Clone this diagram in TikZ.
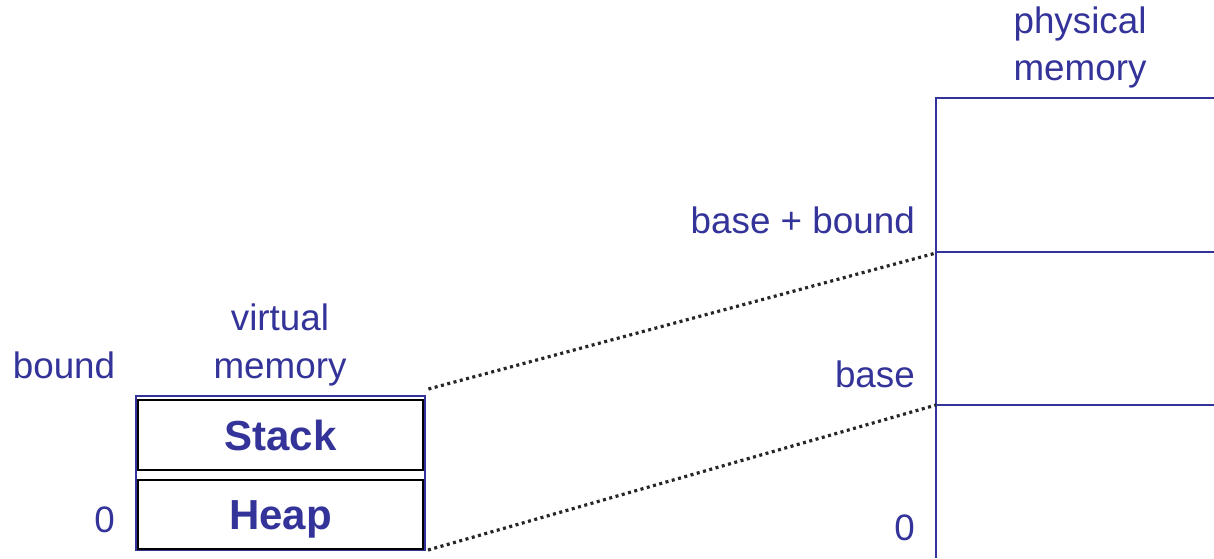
\documentclass[tikz,border=0pt]{standalone}
\usepackage{fontspec}
\setmainfont{Liberation Sans}
\definecolor{mblue}{RGB}{51,51,153}
\begin{document}
\begin{tikzpicture}[x=1pt,y=-1pt,
  lbl/.style={text=mblue,font=\fontsize{36.8}{44}\selectfont,inner sep=0pt},
  seg/.style={draw=mblue,line width=2.8pt},
  blk/.style={draw=black,line width=2pt,inner sep=0pt,anchor=north west,
    font=\fontsize{42}{50}\selectfont\bfseries,text=mblue,text height=30pt,text depth=0pt},
  dots/.style={draw=black!85,line width=3.2pt,dash pattern=on 3pt off 3.5pt}]
\useasboundingbox (0,0) rectangle (1214,558);
% physical memory
\draw[seg] (1214,98) -- (936,98) -- (936,558);
\draw[seg] (936,252) -- (1214,252);
\draw[seg] (936,405) -- (1214,405);
\coordinate (pbb) at (936,253);
\coordinate (pb) at (936,405);
\node[lbl,anchor=base] (phys1) at (1080,33) {physical};
\node[lbl,anchor=base] (phys2) at (1080,80) {memory};
\node[lbl,anchor=base east] (bb) at (915,233) {base + bound};
\node[lbl,anchor=base east] (base) at (915,387) {base};
\node[lbl,anchor=base east] (z2) at (915,540) {0};
% virtual memory
\node[draw=mblue,line width=2.4pt,minimum width=289pt,minimum height=154pt,inner sep=0pt,anchor=north west] (vm) at (135,395) {};
\node[blk,minimum width=285pt,minimum height=70pt] (stack) at (137,399) {Stack};
\node[blk,minimum width=285pt,minimum height=69pt] (heap) at (137,479) {Heap};
\node[lbl,anchor=base] (virt1) at (280,330) {virtual};
\node[lbl,anchor=base] (virt2) at (280,378) {memory};
\node[lbl,anchor=base] (bound) at (64,378) {bound};
\node[lbl,anchor=base east] (z1) at (115,532) {0};
% connectors
\draw[dots] (vm.north east) ++(2,-6) -- (pbb);
\draw[dots] (heap.south east) ++(4,0) -- (pb);
\end{tikzpicture}
\end{document}
